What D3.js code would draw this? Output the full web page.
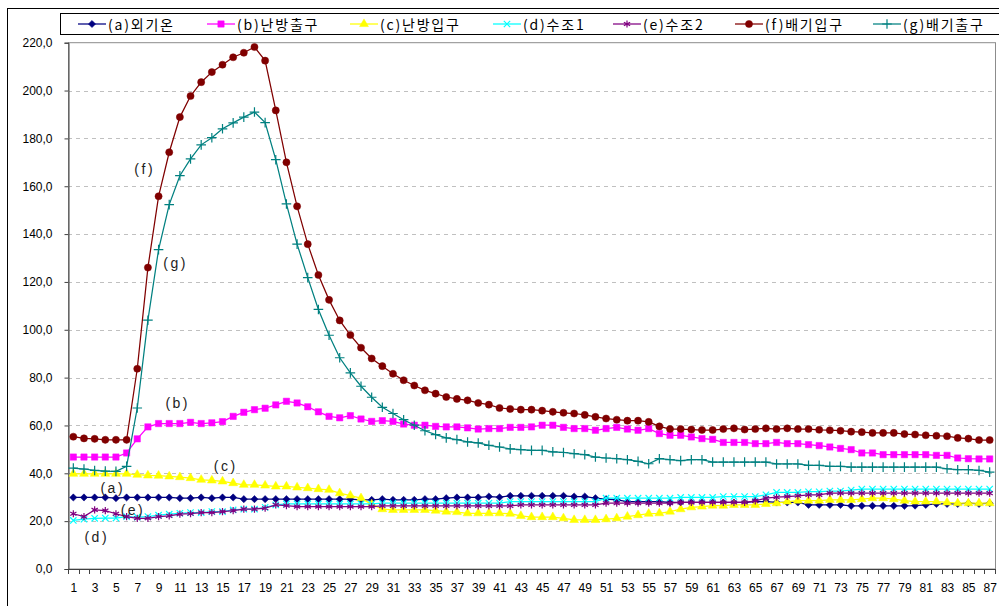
<!DOCTYPE html>
<html>
<head>
<meta charset="utf-8">
<script src="https://cdn.jsdelivr.net/npm/d3@7"></script>
<style>
  html, body { margin: 0; padding: 0; background: #fff; }
  svg { display: block; }
  .tick text { font-family: "Liberation Sans", Arial, sans-serif; font-size: 12px; fill: #000; }
</style>
</head>
<body>
<svg id="chart" width="999" height="606"></svg>
<script>
// Categories along the x axis (measurement index)
const categories = [1,2,3,4,5,6,7,8,9,10,11,12,13,14,15,16,17,18,19,20,
  21,22,23,24,25,26,27,28,29,30,31,32,33,34,35,36,37,38,39,40,
  41,42,43,44,45,46,47,48,49,50,51,52,53,54,55,56,57,58,59,60,
  61,62,63,64,65,66,67,68,69,70,71,72,73,74,75,76,77,78,79,80,
  81,82,83,84,85,86,87];

const yTicks = [0, 20, 40, 60, 80, 100, 120, 140, 160, 180, 200, 220];

const seriesNames = ["(a)외기온", "(b)난방출구", "(c)난방입구", "(d)수조1", "(e)수조2", "(f)배기입구", "(g)배기출구"];

// (a) 외기온
const outdoorTemp = [29.9,29.9,29.9,29.9,29.6,29.9,29.9,29.9,29.9,29.9,
  29.6,29.6,29.9,29.6,29.9,29.9,29.2,29.2,29.2,29.2,
  29.2,29.2,29.2,29.2,29.2,29.2,29.2,28.9,28.9,29.2,
  28.9,28.9,28.9,29.2,29.2,29.6,29.9,29.9,29.9,30.3,
  30.0,30.6,30.6,30.6,30.6,30.6,30.6,30.3,30.3,29.6,
  29.2,28.9,28.2,28.2,28.2,28.2,27.8,27.8,27.8,27.8,
  27.8,27.8,27.8,27.8,28.2,28.2,27.8,27.8,27.8,26.8,
  26.8,26.8,26.8,26.4,26.4,26.4,26.4,26.4,26.4,26.5,
  26.8,27.2,27.2,27.2,27.5,27.2,27.5];

// (b) 난방출구
const heatOut = [46.8,46.8,46.8,46.8,46.8,48.5,54.4,59.4,60.8,60.8,
  60.8,61.3,60.8,61.1,61.6,63.8,65.5,66.6,67.2,68.6,
  70.1,69.4,67.8,65.7,63.8,63.2,64.1,62.7,61.7,62.0,
  61.7,60.6,60.1,60.1,59.6,59.4,59.4,59.0,58.5,58.7,
  58.7,59.2,59.2,59.4,60.1,60.1,59.2,58.7,58.7,58.0,
  58.7,59.2,58.5,58.0,58.7,56.6,55.9,55.9,55.2,54.5,
  54.2,52.9,52.9,52.9,52.4,52.4,52.9,52.4,52.4,52.0,
  51.6,51.0,50.4,49.9,48.5,48.5,47.8,47.8,47.8,47.8,
  47.8,47.5,47.5,46.4,46.1,46.0,46.0];

// (c) 난방입구
const heatIn = [39.8,39.8,39.8,39.8,39.8,39.8,39.4,39.1,39.0,38.7,
  38.4,38.0,37.3,37.0,36.6,35.9,35.2,35.2,34.9,34.5,
  34.5,34.1,33.8,33.4,33.1,31.7,30.7,29.6,27.0,25.0,
  24.7,24.7,24.7,24.7,24.4,24.0,23.8,23.3,23.3,23.3,
  23.3,23.1,22.2,21.7,21.7,21.7,21.2,20.5,20.5,20.5,
  20.8,21.2,21.9,22.5,23.1,23.3,24.0,25.0,25.8,26.1,
  26.5,26.5,26.8,26.8,26.8,27.2,27.5,28.2,28.6,28.6,
  28.6,28.9,28.9,28.9,29.2,29.6,29.6,29.2,28.6,28.2,
  28.2,28.2,27.8,27.5,27.5,27.5,27.5];

// (d) 수조1
const tank1 = [20.3,20.8,21.2,21.3,21.3,21.9,21.7,21.9,22.5,22.9,
  23.3,23.6,23.6,24.0,24.0,24.7,25.0,25.0,25.8,26.8,
  27.2,27.2,27.2,27.2,27.2,27.2,27.2,27.2,27.2,27.5,
  27.5,27.5,27.5,27.5,27.5,27.5,27.5,27.5,27.5,27.5,
  27.5,28.2,28.2,28.2,28.2,28.2,28.2,28.2,28.2,28.2,
  29.6,29.6,29.6,29.6,29.6,29.6,29.6,29.9,29.9,29.9,
  29.9,30.3,30.3,30.3,30.3,31.0,32.0,32.0,32.0,32.3,
  32.3,32.6,32.6,33.0,33.4,33.4,33.4,33.4,33.4,33.4,
  33.4,33.4,33.4,33.4,33.4,33.4,33.4];

// (e) 수조2
const tank2 = [23.1,21.9,24.7,24.4,23.1,21.9,21.2,21.2,21.9,22.2,
  22.9,23.1,23.6,23.6,24.0,24.4,25.0,25.0,25.4,26.8,
  26.5,26.1,26.1,26.1,26.1,26.1,26.1,26.1,26.1,26.4,
  26.4,26.4,26.4,26.4,26.4,26.4,26.4,26.4,26.4,26.4,
  26.4,26.4,26.8,26.8,26.8,26.8,26.8,26.8,26.8,26.8,
  27.5,27.5,27.5,27.5,27.5,27.5,27.5,27.8,27.8,27.8,
  27.8,27.8,27.8,27.8,28.5,29.6,30.0,30.3,30.6,31.0,
  31.0,31.7,31.7,31.7,31.7,31.7,31.7,31.7,31.7,31.7,
  31.7,31.7,31.7,31.7,31.7,31.7,31.7];

// (f) 배기입구
const exhaustIn = [55.3,54.6,54.4,54.0,54.0,54.0,83.7,126.0,155.8,174.2,
  188.9,197.7,203.5,207.7,210.8,213.9,215.8,218.2,212.5,191.7,
  170.0,151.6,135.8,122.9,112.5,103.9,97.8,92.5,88.0,84.8,
  81.6,78.9,76.7,74.7,73.3,71.9,71.1,70.5,69.4,68.7,
  67.3,66.9,66.6,66.6,66.2,65.7,65.3,65.0,64.4,63.6,
  62.9,62.4,62.0,62.0,61.5,59.6,58.5,58.5,58.3,58.1,
  58.1,58.5,58.8,58.3,58.5,58.8,58.5,58.8,58.5,58.5,
  58.2,58.0,57.8,57.4,57.2,56.9,56.9,56.9,56.4,56.2,
  55.9,55.7,55.5,54.8,54.5,53.9,53.9];

// (g) 배기출구
const exhaustOut = [42.2,41.8,41.2,40.9,40.8,42.9,67.3,104.0,133.5,152.3,
  164.4,171.4,177.3,180.3,184.0,186.5,188.9,191.0,186.6,171.1,
  152.6,135.8,121.8,108.5,97.7,88.3,82.0,76.4,71.8,67.6,
  65.0,62.4,60.1,57.8,56.2,54.8,54.1,53.1,52.7,51.7,
  51.0,50.2,49.9,49.6,49.6,49.0,48.7,48.2,47.8,46.8,
  46.4,46.1,45.7,45.0,44.0,46.1,45.7,45.3,45.7,45.7,
  44.7,44.7,44.7,44.7,44.7,44.7,43.9,43.9,43.9,43.3,
  43.3,42.9,42.9,42.6,42.6,42.6,42.6,42.6,42.6,42.6,
  42.6,42.6,41.9,41.5,41.5,41.2,40.5];

const seriesValues = [outdoorTemp, heatOut, heatIn, tank1, tank2, exhaustIn, exhaustOut];

// Series styling: colour and marker kind
const styles = [
  { color: "#000080", marker: "diamond" },
  { color: "#FF00FF", marker: "square" },
  { color: "#FFFF00", marker: "triangle" },
  { color: "#00FFFF", marker: "times" },
  { color: "#800080", marker: "asterisk" },
  { color: "#800000", marker: "circle" },
  { color: "#008080", marker: "plus" }
];

const svg = d3.select("#chart");

// Outer chart frame
svg.append("rect")
  .attr("x", 7.5).attr("y", 8.5)
  .attr("width", 1010).attr("height", 620)
  .attr("fill", "#fff").attr("stroke", "#000").attr("stroke-width", 1);

// Plot area geometry
const plot = { left: 68, right: 995, top: 42.7, bottom: 569 };

const x = d3.scalePoint().domain(categories).range([plot.left, plot.right]).padding(0.5);
const xBand = d3.scaleBand().domain(categories).range([plot.left, plot.right]).paddingInner(0).paddingOuter(0);
const y = d3.scaleLinear().domain([0, 220]).range([plot.bottom, plot.top]);

// Plot area background and border
svg.append("rect")
  .attr("x", plot.left + 0.5).attr("y", plot.top)
  .attr("width", plot.right - plot.left).attr("height", plot.bottom - plot.top)
  .attr("fill", "#fff").attr("stroke", "#8c8c8c").attr("stroke-width", 1);

// Dashed horizontal gridlines
svg.append("g")
  .selectAll("line")
  .data(yTicks.filter(v => v > 0 && v < 220))
  .join("line")
  .attr("x1", plot.left).attr("x2", plot.right)
  .attr("y1", d => Math.round(y(d)) + 0.5).attr("y2", d => Math.round(y(d)) + 0.5)
  .attr("stroke", "#c0c0c0").attr("stroke-width", 1)
  .attr("stroke-dasharray", "4,4");

// Y axis
const yAxis = svg.append("g")
  .attr("transform", `translate(${plot.left + 0.5},0)`)
  .call(d3.axisLeft(y).tickValues(yTicks).tickSize(4).tickPadding(12)
    .tickFormat(d => d3.format(".1f")(d).replace(".", ",")));
yAxis.select(".domain").attr("stroke", "#404040");
yAxis.selectAll(".tick line").attr("stroke", "#404040");

// X axis: labels on every other category, ticks at category boundaries
const xAxis = svg.append("g")
  .attr("transform", `translate(0,${plot.bottom + 0.5})`)
  .call(d3.axisBottom(x).tickValues(categories.filter(c => c % 2 === 1)).tickSize(0).tickPadding(14));
xAxis.select(".domain").remove();
svg.append("line")
  .attr("x1", plot.left).attr("x2", plot.right)
  .attr("y1", plot.bottom + 0.5).attr("y2", plot.bottom + 0.5)
  .attr("stroke", "#404040");
svg.append("g")
  .selectAll("line")
  .data(categories.map(c => xBand(c)).concat([plot.right]))
  .join("line")
  .attr("x1", d => Math.round(d) + 0.5).attr("x2", d => Math.round(d) + 0.5)
  .attr("y1", plot.bottom).attr("y2", plot.bottom + 5)
  .attr("stroke", "#404040");

// Marker generator
function markerPath(kind) {
  switch (kind) {
    case "diamond": return d3.symbol(d3.symbolSquare, 26)();
    case "square": return d3.symbol(d3.symbolSquare, 40)();
    case "triangle": return d3.symbol(d3.symbolTriangle, 34)();
    case "times": return d3.symbol(d3.symbolTimes, 28)();
    case "asterisk": return d3.symbol(d3.symbolAsterisk, 36)();
    case "circle": return d3.symbol(d3.symbolCircle, 40)();
    case "plus": return d3.symbol(d3.symbolPlus, 32)();
  }
}
const strokeMarkers = new Set(["times", "asterisk", "plus"]);

function drawMarker(g, kind, color, cx, cy) {
  const p = g.append("path")
    .attr("d", markerPath(kind))
    .attr("transform", `translate(${cx},${cy})` + (kind === "diamond" ? " rotate(45)" : ""));
  if (strokeMarkers.has(kind)) {
    p.attr("fill", "none").attr("stroke", color).attr("stroke-width", 1.2);
  } else {
    p.attr("fill", color).attr("stroke", color).attr("stroke-width", 0.5);
  }
}

const line = d3.line().x((d, i) => x(categories[i])).y(d => y(d));

// Series lines and markers
seriesValues.forEach((vals, si) => {
  const st = styles[si];
  const g = svg.append("g");
  g.append("path")
    .datum(vals)
    .attr("d", line)
    .attr("fill", "none")
    .attr("stroke", st.color)
    .attr("stroke-width", 1.25);
  vals.forEach((v, i) => drawMarker(g, st.marker, st.color, x(categories[i]), y(v)));
});

// Series annotations placed in data coordinates
const annotationFont = '"Liberation Sans", Arial, sans-serif';
[
  ["(f)", 7.7, 167], ["(g)", 10.6, 128], ["(b)", 10.8, 69.4], ["(c)", 15.3, 43.1],
  ["(a)", 4.7, 33.9], ["(e)", 6.6, 24.7], ["(d)", 3.2, 13.4]
].forEach(([t, c, v]) => {
  const px = x(1) + (c - 1) * x.step();
  svg.append("text")
    .attr("x", px).attr("y", y(v))
    .attr("text-anchor", "middle").attr("dominant-baseline", "central")
    .attr("font-family", annotationFont).attr("font-size", 14)
    .attr("letter-spacing", 2.5)
    .attr("fill", "#222")
    .text(t);
});

// Legend
const legend = svg.append("g");
legend.append("rect")
  .attr("x", 60.5).attr("y", 13.5).attr("width", 960).attr("height", 21)
  .attr("fill", "#fff").attr("stroke", "#000").attr("stroke-width", 1);
const legendX = [78, 207, 350, 493, 613, 735, 873];
seriesNames.forEach((name, si) => {
  const st = styles[si];
  const lx = legendX[si];
  const ly = 24;
  legend.append("line")
    .attr("x1", lx).attr("x2", lx + 28).attr("y1", ly).attr("y2", ly)
    .attr("stroke", st.color).attr("stroke-width", 1.25);
  drawMarker(legend, st.marker, st.color, lx + 14, ly);
  legend.append("text")
    .attr("x", lx + 30).attr("y", ly)
    .attr("dominant-baseline", "central")
    .attr("font-family", '"Noto Sans CJK KR", "Noto Sans", sans-serif')
    .attr("font-size", 14)
    .attr("letter-spacing", 1.8)
    .attr("fill", "#000")
    .text(name);
});
</script>
</body>
</html>
